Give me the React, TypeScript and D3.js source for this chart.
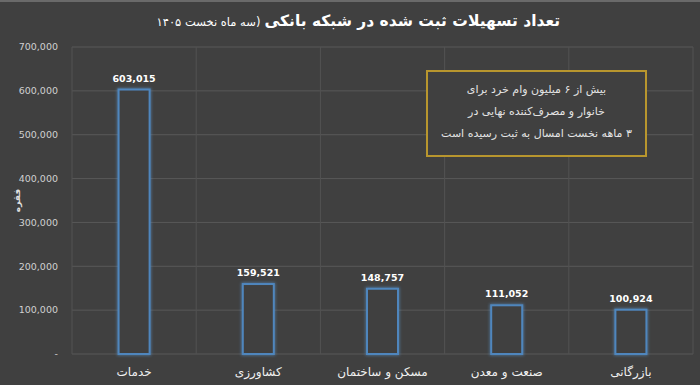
import React from "react";
import * as d3 from "d3";

const categories = ["خدمات", "کشاورزی", "مسکن و ساختمان", "صنعت و معدن", "بازرگانی"];
const values = [603015, 159521, 148757, 111052, 100924];
const yTicks = [0, 100000, 200000, 300000, 400000, 500000, 600000, 700000];
const titleMain = "تعداد تسهیلات ثبت شده در شبکه بانکی";
const titleSub = "(سه ماه نخست ۱۴۰۵";
const yTitle = "فقره";
const noteLines = [
  "بیش از ۶ میلیون وام خرد برای",
  "خانوار و مصرف‌کننده نهایی در",
  "۳ ماهه نخست امسال به ثبت رسیده است",
];

const W = 700;
const H = 385;
const left = 72;
const right = 693;
const top = 47;
const bottom = 354;
const FONT = "'DejaVu Sans', 'Noto Sans', sans-serif";

export default function App() {
  const x = d3.scaleBand<string>().domain(categories).range([left, right]).paddingInner(0).paddingOuter(0);
  const y = d3.scaleLinear().domain([0, 700000]).range([bottom, top]);
  const fmt = d3.format(",");
  const barW = 31;

  return (
    <svg
      width={W}
      height={H}
      style={{ position: "absolute", left: 0, top: 0, background: "#404040" }}
      fontFamily={FONT}
    >
      <defs>
        <filter id="glow" x="-50%" y="-10%" width="200%" height="120%">
          <feGaussianBlur stdDeviation="1.5" />
        </filter>
      </defs>
      <rect x={0} y={0} width={W} height={H} fill="#404040" />
      <rect x={0} y={0} width={W} height={2} fill="#6a6a6a" />

      <text x={560} y={26} textAnchor="start" fill="#ffffff" direction="rtl">
        <tspan fontSize={15.5} fontWeight="bold">{titleMain}</tspan>
        <tspan fontSize={11.5} dx={-4}>{titleSub}</tspan>
      </text>

      {/* horizontal gridlines */}
      {yTicks.map((t) => (
        <line key={"h" + t} x1={left} x2={right} y1={y(t)} y2={y(t)} stroke="#585858" strokeWidth={1} />
      ))}
      {/* vertical gridlines at category boundaries */}
      {categories.map((c) => (
        <line key={"v" + c} x1={x(c)!} x2={x(c)!} y1={top} y2={bottom} stroke="#525252" strokeWidth={1} />
      ))}
      <line x1={right} x2={right} y1={top} y2={bottom} stroke="#525252" strokeWidth={1} />

      {/* y tick labels */}
      {yTicks.map((t) => (
        <text
          key={"t" + t}
          x={58}
          y={y(t)}
          dy="0.35em"
          textAnchor="end"
          fill="#d0d0d0"
          fontSize={9.5}
        >
          {t === 0 ? "-" : fmt(t)}
        </text>
      ))}

      <text
        transform={`translate(20,${(top + bottom) / 2}) rotate(-90)`}
        textAnchor="middle"
        fill="#e0e0e0"
        fontSize={9}
        fontWeight="bold"
      >
        {yTitle}
      </text>

      {/* bars */}
      {categories.map((c, i) => {
        const cx = x(c)! + x.bandwidth() / 2;
        const y0 = y(values[i]);
        return (
          <g key={"b" + c}>
            <rect
              x={cx - barW / 2}
              y={y0}
              width={barW}
              height={bottom - y0}
              fill="none"
              stroke="#5b97d0"
              strokeWidth={3}
              opacity={0.6}
              filter="url(#glow)"
            />
            <rect
              x={cx - barW / 2}
              y={y0}
              width={barW}
              height={bottom - y0}
              fill="#404040"
              stroke="#4f86bd"
              strokeWidth={2}
            />
            <text x={cx} y={y0 - 8} textAnchor="middle" fill="#ffffff" fontSize={9.5} fontWeight="bold">
              {fmt(values[i])}
            </text>
            <text x={cx} y={376} textAnchor="middle" fill="#f0f0f0" fontSize={12} direction="rtl">
              {c}
            </text>
          </g>
        );
      })}

      {/* annotation box */}
      <rect x={427} y={71} width={219} height={85} fill="#404040" stroke="#b8962e" strokeWidth={2} />
      {noteLines.map((l, i) => (
        <text
          key={"n" + i}
          x={536.5}
          y={93 + i * 22}
          textAnchor="middle"
          fill="#e4e4e4"
          fontSize={11}
          direction="rtl"
        >
          {l}
        </text>
      ))}
    </svg>
  );
}
